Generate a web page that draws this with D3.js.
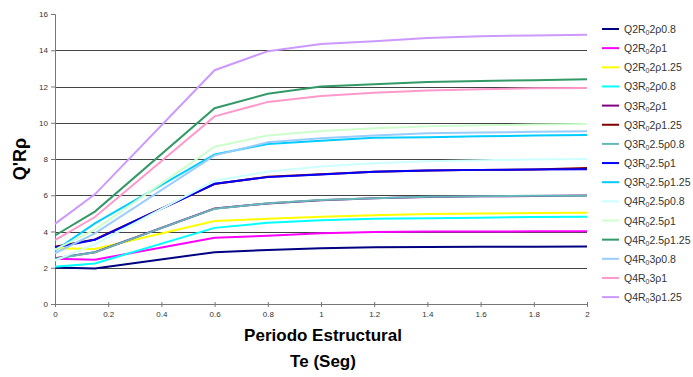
<!DOCTYPE html>
<html>
<head>
<meta charset="utf-8">
<script src="https://cdn.jsdelivr.net/npm/d3@7"></script>
<style>
body{margin:0;background:#fff;}
svg{font-family:Arial,"Liberation Sans",sans-serif;}
</style>
</head>
<body>
<svg id="chart" width="693" height="377"></svg>
<script>
// periodo estructural (x)
var periods=[0,0.15,0.6,0.8,1.0,1.2,1.4,1.6,1.8,2.0];

// one array per series
var q2r2p08 =[2.02,1.96,2.86,2.98,3.08,3.13,3.15,3.16,3.16,3.17];
var q2r2p1  =[2.50,2.44,3.66,3.76,3.90,3.97,4.00,4.00,4.01,4.02];
var q2r2p125=[3.08,3.04,4.58,4.70,4.82,4.90,4.96,4.99,5.02,5.04];
var q3r2p08 =[2.06,2.24,4.20,4.48,4.62,4.70,4.73,4.76,4.80,4.82];
var q3r2p1  =[2.52,2.86,5.27,5.55,5.73,5.83,5.90,5.94,5.96,5.98];
var q3r2p125=[3.16,3.56,6.62,7.02,7.16,7.30,7.37,7.40,7.42,7.50];
var q3r25p08=[2.50,2.85,5.26,5.56,5.74,5.84,5.92,5.95,5.97,5.97];
var q3r25p1 =[3.12,3.54,6.63,7.00,7.15,7.29,7.37,7.40,7.42,7.43];
var q3r25p125=[2.95,4.45,8.25,8.83,9.01,9.17,9.20,9.25,9.29,9.32];
var q4r25p08=[2.40,3.30,6.80,7.30,7.58,7.76,7.88,7.93,7.97,8.00];
var q4r25p1 =[3.00,4.10,8.68,9.30,9.55,9.69,9.80,9.86,9.90,9.93];
var q4r25p125=[3.78,5.10,10.80,11.60,12.00,12.12,12.25,12.30,12.35,12.40];
var q4r3p08 =[2.80,3.90,8.20,8.92,9.14,9.30,9.42,9.46,9.50,9.53];
var q4r3p1  =[3.52,4.80,10.35,11.15,11.47,11.66,11.78,11.85,11.90,11.92];
var q4r3p125=[4.42,6.05,12.90,13.95,14.35,14.50,14.68,14.77,14.82,14.86];

// legend parts: [before subscript, subscript, after]
var names=[
  ["Q2R","0","2ρ0.8"],["Q2R","0","2ρ1"],["Q2R","0","2ρ1.25"],
  ["Q3R","0","2ρ0.8"],["Q3R","0","2ρ1"],["Q3R","0","2ρ1.25"],
  ["Q3R","0","2.5ρ0.8"],["Q3R","0","2.5ρ1"],["Q3R","0","2.5ρ1.25"],
  ["Q4R","0","2.5ρ0.8"],["Q4R","0","2.5ρ1"],["Q4R","0","2.5ρ1.25"],
  ["Q4R","0","3ρ0.8"],["Q4R","0","3ρ1"],["Q4R","0","3ρ1.25"]
];
var values=[q2r2p08,q2r2p1,q2r2p125,q3r2p08,q3r2p1,q3r2p125,q3r25p08,q3r25p1,
            q3r25p125,q4r25p08,q4r25p1,q4r25p125,q4r3p08,q4r3p1,q4r3p125];
var colors=["#000080","#ff00ff","#ffff00","#00ffff","#800080","#800000","#66b8b8",
            "#0000ff","#00ccff","#ccffff","#ccffcc","#339966","#99ccff","#ff99cc","#cc99ff"];

var xTicks=[0,0.2,0.4,0.6,0.8,1,1.2,1.4,1.6,1.8,2];
var yTicks=[0,2,4,6,8,10,12,14,16];

var margin={top:14,left:55,bottom:73,right:106};
var width=693-margin.left-margin.right;
var height=377-margin.top-margin.bottom;

var svg=d3.select("#chart")
  .append('g')
  .attr('transform','translate('+margin.left+','+margin.top+')');

var xScale=d3.scaleLinear().domain([0,2]).range([0,width]);
var yScale=d3.scaleLinear().domain([0,16]).range([height,0]);

// grid lines (none at the top value)
svg.append('g')
  .selectAll('line')
  .data(yTicks.slice(1,-1))
  .enter()
  .append('line')
  .attr('x1',0).attr('x2',width)
  .attr('y1',d=>Math.round(yScale(d))+0.5)
  .attr('y2',d=>Math.round(yScale(d))+0.5)
  .attr('stroke','#444')
  .attr('stroke-width',1);

// axes
var xAxis=d3.axisBottom(xScale).tickValues(xTicks).tickSize(3).tickFormat(d3.format("~g"));
var yAxis=d3.axisLeft(yScale).tickValues(yTicks).tickSize(4).tickFormat(d3.format("d"));

var gx=svg.append('g')
  .attr('transform','translate(0,'+height+')')
  .call(xAxis);
gx.selectAll('line').attr('y1',-2).attr('y2',3);
var gy=svg.append('g').call(yAxis);

[gx,gy].forEach(function(g){
  g.select('.domain').attr('stroke','#777');
  g.selectAll('.tick line').attr('stroke','#777');
  g.selectAll('text').attr('fill','#333').style('font-size','8px');
});
gx.selectAll('text').attr('dy','0.9em');

// series lines
var line=d3.line()
  .x((d,i)=>xScale(periods[i]))
  .y(d=>yScale(d));

svg.selectAll('.serie')
  .data(values)
  .enter()
  .append('path')
  .attr('class','serie')
  .attr('d',d=>line(d))
  .attr('fill','none')
  .attr('stroke',(d,i)=>colors[i])
  .attr('stroke-width',2);

// axis titles
d3.select("#chart").append('text')
  .attr('transform','translate(26,'+(margin.top+height/2)+') rotate(-90)')
  .attr('text-anchor','middle')
  .style('font-size','18px').style('font-weight','bold')
  .text("Q'Rρ");

d3.select("#chart").append('text')
  .attr('x',323).attr('y',341)
  .attr('text-anchor','middle')
  .style('font-size','17px').style('font-weight','bold')
  .text("Periodo Estructural");

d3.select("#chart").append('text')
  .attr('x',323).attr('y',367)
  .attr('text-anchor','middle')
  .style('font-size','17px').style('font-weight','bold')
  .text("Te (Seg)");

// legend
var legend=d3.select("#chart").append('g')
  .attr('transform','translate(602,29)');

var items=legend.selectAll('g')
  .data(names)
  .enter()
  .append('g')
  .attr('transform',(d,i)=>'translate(0,'+(i*19.15)+')');

items.append('line')
  .attr('x1',0).attr('x2',17)
  .attr('y1',0).attr('y2',0)
  .attr('stroke',(d,i)=>colors[i])
  .attr('stroke-width',2);

var lt=items.append('text')
  .attr('x',22).attr('y',4)
  .attr('fill','#333')
  .style('font-size','10.5px');
lt.append('tspan').text(d=>d[0]);
lt.append('tspan').attr('dy',2).style('font-size','7px').text(d=>d[1]);
lt.append('tspan').attr('dy',-2).text(d=>d[2]);
</script>
</body>
</html>
